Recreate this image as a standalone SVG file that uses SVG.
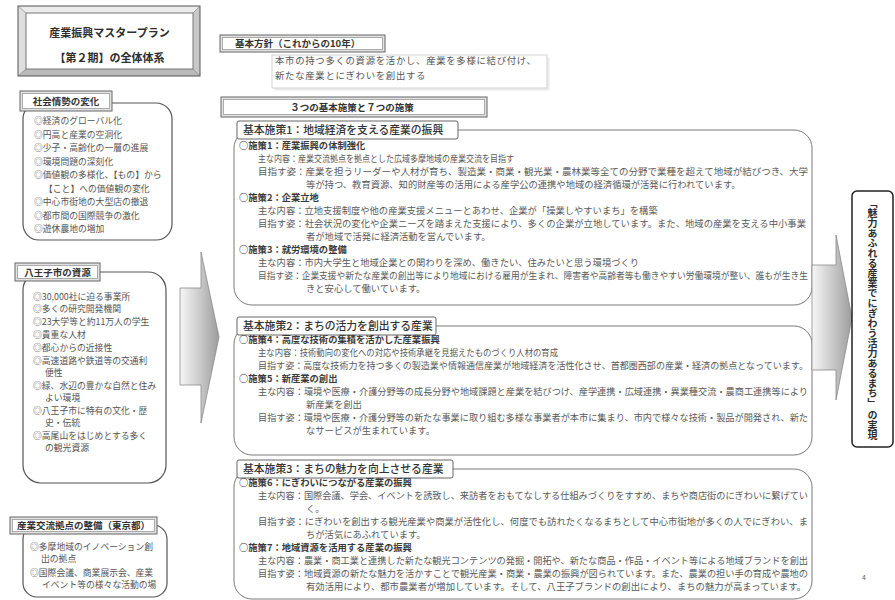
<svg xmlns="http://www.w3.org/2000/svg" width="895" height="600" viewBox="0 0 895 600">
<defs>
<linearGradient id="arrowGrad" x1="0" y1="0" x2="1" y2="0">
<stop offset="0" stop-color="#f6f6f6"/>
<stop offset="0.55" stop-color="#c6c6c6"/>
<stop offset="1" stop-color="#9c9c9c"/>
</linearGradient>
<style>
text{font-family:'Noto Sans CJK JP','Noto Sans',sans-serif}
.b{font-weight:700;fill:#2e2e2e}
.h{font-size:9.5px;font-weight:700;fill:#333}
.lt{font-size:8.8px;fill:#555}
.box{fill:#fff;stroke:#555;stroke-width:1.2}
.lo{fill:#e2e2e2;stroke:#666;stroke-width:1}
.li{fill:#fff;stroke:#9a9a9a;stroke-width:0.8}
.sec{fill:#fff;stroke:#7a7a7a;stroke-width:1}
.slab{fill:#fff;stroke:#666;stroke-width:1}
.st{font-size:10.8px;font-weight:500;fill:#333}
.p{font-size:9.3px;font-weight:700;fill:#3a3a3a}
.d{font-size:9.3px;fill:#5a5a5a}
.arrow{fill:url(#arrowGrad);stroke:#8a8a8a;stroke-width:0.8}
</style>
</defs>
<rect width="895" height="600" fill="#fff"/>

<g id="title">
<polygon points="18,6 200,6 193,13 26,13" fill="#ebebeb"/>
<polygon points="18,6 26,13 26,69 18,76" fill="#dedede"/>
<polygon points="200,6 200,76 193,69 193,13" fill="#c8c8c8"/>
<polygon points="18,76 26,69 193,69 200,76" fill="#bababa"/>
<rect x="18" y="6" width="182" height="70" fill="none" stroke="#555"/>
<rect x="26" y="13" width="167" height="56" fill="#fff" stroke="#777"/>
<g stroke="#777" stroke-width="0.6"><line x1="18" y1="6" x2="26" y2="13"/><line x1="200" y1="6" x2="193" y2="13"/><line x1="18" y1="76" x2="26" y2="69"/><line x1="200" y1="76" x2="193" y2="69"/></g>
<text x="109.5" y="37" text-anchor="middle" class="b" font-size="11">産業振興マスタープラン</text>
<text x="109.5" y="62" text-anchor="middle" class="b" font-size="11">【第２期】の全体体系</text>
</g>

<g id="social">
<rect x="23" y="103" width="149" height="137" rx="16" class="box"/>
<rect x="20" y="91" width="92" height="20" class="lo"/>
<rect x="22.5" y="93.5" width="87" height="15" class="li"/>
<text x="66" y="104.5" text-anchor="middle" class="h">社会情勢の変化</text>
<text class="lt" x="34" y="124">◎経済のグローバル化</text>
<text class="lt" x="34" y="137.5">◎円高と産業の空洞化</text>
<text class="lt" x="34" y="151">◎少子・高齢化の一層の進展</text>
<text class="lt" x="34" y="164.5">◎環境問題の深刻化</text>
<text class="lt" x="34" y="178">◎価値観の多様化、【もの】から</text>
<text class="lt" x="44" y="191.5">【こと】への価値観の変化</text>
<text class="lt" x="34" y="205">◎中心市街地の大型店の撤退</text>
<text class="lt" x="34" y="218.5">◎都市間の国際競争の激化</text>
<text class="lt" x="34" y="232">◎遊休農地の増加</text>
</g>

<g id="resources">
<rect x="23" y="272" width="143" height="211" rx="18" class="box"/>
<rect x="15" y="263" width="85" height="18" class="lo"/>
<rect x="17.5" y="265.5" width="80" height="13" class="li"/>
<text x="57.5" y="275.5" text-anchor="middle" class="h">八王子市の資源</text>
<text class="lt" x="33" y="300">◎30,000社に迫る事業所</text>
<text class="lt" x="33" y="312">◎多くの研究開発機関</text>
<text class="lt" x="33" y="325">◎23大学等と約11万人の学生</text>
<text class="lt" x="33" y="338">◎貴重な人材</text>
<text class="lt" x="33" y="351">◎都心からの近接性</text>
<text class="lt" x="33" y="364">◎高速道路や鉄道等の交通利</text>
<text class="lt" x="45" y="376">便性</text>
<text class="lt" x="33" y="389">◎緑、水辺の豊かな自然と住み</text>
<text class="lt" x="45" y="401">よい環境</text>
<text class="lt" x="33" y="414">◎八王子市に特有の文化・歴</text>
<text class="lt" x="45" y="426">史・伝統</text>
<text class="lt" x="33" y="439">◎高尾山をはじめとする多く</text>
<text class="lt" x="45" y="451">の観光資源</text>
</g>

<g id="exchange">
<rect x="23" y="525" width="144" height="72" rx="14" class="box"/>
<rect x="10" y="517" width="147" height="17" class="lo"/>
<rect x="12.5" y="519.5" width="142" height="12" class="li"/>
<text x="83.5" y="529" text-anchor="middle" class="h" font-size="9">産業交流拠点の整備（東京都）</text>
<text class="lt" x="30" y="550">◎多摩地域のイノベーション創</text>
<text class="lt" x="41" y="562">出の拠点</text>
<text class="lt" x="30" y="576">◎国際会議、商業展示会、産業</text>
<text class="lt" x="42" y="588">イベント等の様々な活動の場</text>
</g>

<g id="policy">
<rect x="274.5" y="57.5" width="275" height="33" fill="#ececec"/>
<rect x="272" y="55" width="275" height="33" fill="#fff" stroke="#d4d4d4"/>
<rect x="220" y="35" width="165" height="17" class="lo"/>
<rect x="222.5" y="37.5" width="160" height="12" class="li"/>
<text x="235" y="47" class="h">基本方針（これからの10年）</text>
<text x="275" y="64" font-size="9.4" letter-spacing="0.7" fill="#555">本市の持つ多くの資源を活かし、産業を多様に結び付け、</text>
<text x="275" y="78.5" font-size="9.4" letter-spacing="0.7" fill="#555">新たな産業とにぎわいを創出する</text>
</g>

<g id="header">
<rect x="221" y="97" width="266" height="20" class="lo"/>
<rect x="223.5" y="99.5" width="261" height="15" class="li"/>
<text x="352" y="110.5" text-anchor="middle" class="h">３つの基本施策と７つの施策</text>
</g>

<g id="policy1">
<rect x="234" y="130" width="578" height="175" rx="18" class="sec"/>
<rect x="237" y="121" width="221" height="18" rx="2" class="slab"/>
<text x="243" y="134" class="st">基本施策1：地域経済を支える産業の振興</text>
<text x="239" y="149" class="p">○施策1：産業振興の体制強化</text>
<text x="258" y="162" class="d" textLength="256" lengthAdjust="spacingAndGlyphs">主な内容：産業交流拠点を拠点とした広域多摩地域の産業交流を目指す</text>
<text x="258" y="175" class="d" textLength="550" lengthAdjust="spacingAndGlyphs">目指す姿：産業を担うリーダーや人材が育ち、製造業・商業・観光業・農林業等全ての分野で業種を超えて地域が結びつき、大学</text>
<text x="306" y="188" class="d">等が持つ、教育資源、知的財産等の活用による産学公の連携や地域の経済循環が活発に行われています。</text>
<text x="239" y="201" class="p">○施策2：企業立地</text>
<text x="258" y="214" class="d">主な内容：立地支援制度や他の産業支援メニューとあわせ、企業が「操業しやすいまち」を構築</text>
<text x="258" y="227" class="d" textLength="548" lengthAdjust="spacingAndGlyphs">目指す姿：社会状況の変化や企業ニーズを踏まえた支援により、多くの企業が立地しています。また、地域の産業を支える中小事業</text>
<text x="306" y="240" class="d">者が地域で活発に経済活動を営んでいます。</text>
<text x="239" y="253" class="p">○施策3：就労環境の整備</text>
<text x="258" y="266" class="d">主な内容：市内大学生と地域企業との関わりを深め、働きたい、住みたいと思う環境づくり</text>
<text x="258" y="279" class="d" textLength="550" lengthAdjust="spacingAndGlyphs">目指す姿：企業支援や新たな産業の創出等により地域における雇用が生まれ、障害者や高齢者等も働きやすい労働環境が整い、誰もが生き生</text>
<text x="306" y="292" class="d">きと安心して働いています。</text>
</g>

<g id="policy2">
<rect x="234" y="326" width="578" height="129" rx="18" class="sec"/>
<rect x="237" y="317" width="199" height="18" rx="2" class="slab"/>
<text x="243" y="330" class="st">基本施策2：まちの活力を創出する産業</text>
<text x="239" y="343" class="p">○施策4：高度な技術の集積を活かした産業振興</text>
<text x="258" y="356" class="d" textLength="300" lengthAdjust="spacingAndGlyphs">主な内容：技術動向の変化への対応や技術承継を見据えたものづくり人材の育成</text>
<text x="258" y="369" class="d" textLength="550" lengthAdjust="spacingAndGlyphs">目指す姿：高度な技術力を持つ多くの製造業や情報通信産業が地域経済を活性化させ、首都圏西部の産業・経済の拠点となっています。</text>
<text x="239" y="382" class="p">○施策5：新産業の創出</text>
<text x="258" y="395" class="d" textLength="550" lengthAdjust="spacingAndGlyphs">主な内容：環境や医療・介護分野等の成長分野や地域課題と産業を結びつけ、産学連携・広域連携・異業種交流・農商工連携等により</text>
<text x="306" y="408" class="d">新産業を創出</text>
<text x="258" y="421" class="d" textLength="550" lengthAdjust="spacingAndGlyphs">目指す姿：環境や医療・介護分野等の新たな事業に取り組む多様な事業者が本市に集まり、市内で様々な技術・製品が開発され、新た</text>
<text x="306" y="434" class="d">なサービスが生まれています。</text>
</g>

<g id="policy3">
<rect x="234" y="469" width="578" height="130" rx="18" class="sec"/>
<rect x="237" y="460" width="216" height="18" rx="2" class="slab"/>
<text x="243" y="473" class="st">基本施策3：まちの魅力を向上させる産業</text>
<text x="239" y="486" class="p">○施策6：にぎわいにつながる産業の振興</text>
<text x="258" y="499" class="d" textLength="550" lengthAdjust="spacingAndGlyphs">主な内容：国際会議、学会、イベントを誘致し、来訪者をおもてなしする仕組みづくりをすすめ、まちや商店街のにぎわいに繋げてい</text>
<text x="306" y="512" class="d">く。</text>
<text x="258" y="525" class="d" textLength="550" lengthAdjust="spacingAndGlyphs">目指す姿：にぎわいを創出する観光産業や商業が活性化し、何度でも訪れたくなるまちとして中心市街地が多くの人でにぎわい、ま</text>
<text x="306" y="538" class="d">ちが活気にあふれています。</text>
<text x="239" y="551" class="p">○施策7：地域資源を活用する産業の振興</text>
<text x="258" y="564" class="d" textLength="550" lengthAdjust="spacingAndGlyphs">主な内容：農業・商工業と連携した新たな観光コンテンツの発掘・開拓や、新たな商品・作品・イベント等による地域ブランドを創出</text>
<text x="258" y="577" class="d" textLength="550" lengthAdjust="spacingAndGlyphs">目指す姿：地域資源の新たな魅力を活かすことで観光産業・商業・農業の振興が図られています。また、農業の担い手の育成や農地の</text>
<text x="306" y="590" class="d" textLength="500" lengthAdjust="spacingAndGlyphs">有効活用により、都市農業者が増加しています。そして、八王子ブランドの創出により、まちの魅力が高まっています。</text>
</g>

<g id="connectors">
<path class="arrow" d="M180,288 L201,288 L201,252 L219,337 L201,423 L201,385 L180,385 Z"/>
<path class="arrow" d="M812,265 L836,265 L836,235 L852,318 L836,400 L836,370 L812,370 Z"/>
</g>

<g id="goal">
<rect x="852" y="191" width="41" height="256" rx="5" fill="#fff" stroke="#222" stroke-width="1.5"/>
<text x="872.5" y="319" style="writing-mode:vertical-rl" text-anchor="middle" font-size="10" class="b">「魅力あふれる産業でにぎわう活力あるまち」 の実現</text>
</g>

<text x="862" y="580" font-size="7" fill="#666">4</text>
</svg>
